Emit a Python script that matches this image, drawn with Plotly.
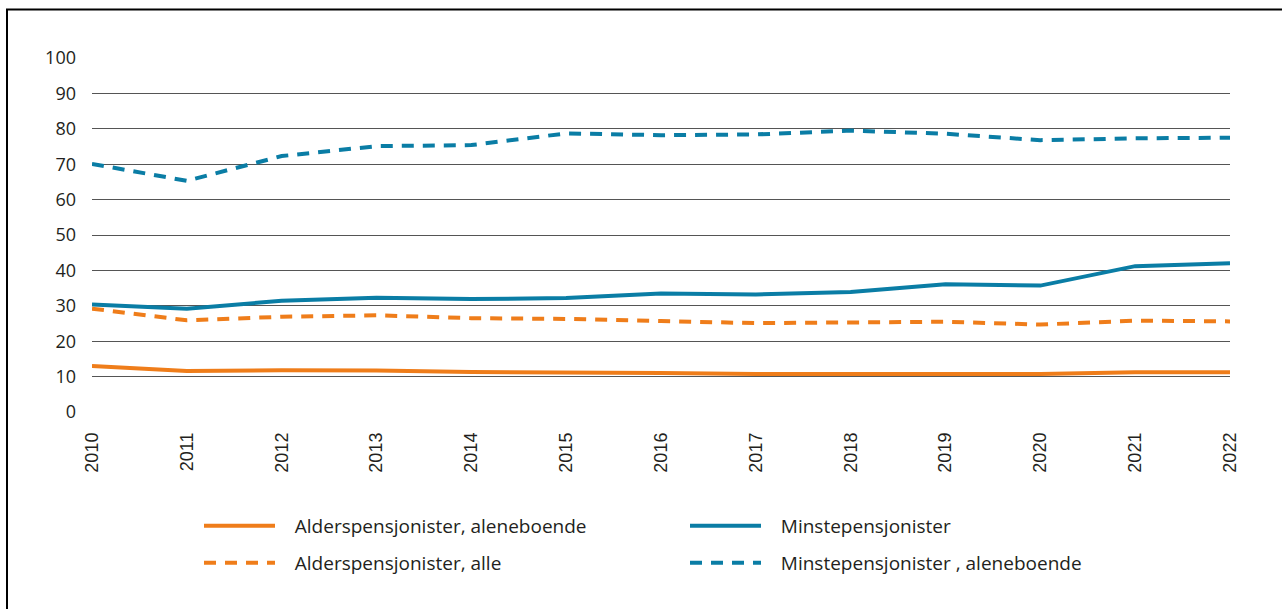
import plotly.graph_objects as go

years = list(range(2010, 2023))
alder_alene = [13.0, 11.6, 11.8, 11.7, 11.3, 11.2, 11.0, 10.7, 10.7, 10.9, 10.7, 11.2, 11.2]
alder_alle = [29.2, 25.9, 26.9, 27.3, 26.5, 26.3, 25.7, 25.1, 25.3, 25.5, 24.7, 25.8, 25.6]
minste = [30.4, 29.2, 31.4, 32.3, 31.9, 32.2, 33.5, 33.2, 33.9, 36.1, 35.7, 41.2, 42.0]
minste_alene = [70.1, 65.3, 72.3, 75.1, 75.4, 78.7, 78.2, 78.4, 79.5, 78.6, 76.8, 77.3, 77.5]
y_ticks = list(range(0, 101, 10))

ORANGE = "#EF7D1A"
BLUE = "#0A7DA5"
FONT = "Open Sans"
GAP = "\u00a0\u00a0\u00a0"

fig = go.Figure()
fig.add_trace(go.Scatter(x=years, y=alder_alene, mode="lines", name=GAP + "Alderspensjonister, aleneboende",
                         line=dict(color=ORANGE, width=4), legend="legend"))
fig.add_trace(go.Scatter(x=years, y=minste, mode="lines", name=GAP + "Minstepensjonister",
                         line=dict(color=BLUE, width=4), legend="legend"))
fig.add_trace(go.Scatter(x=years, y=alder_alle, mode="lines", name=GAP + "Alderspensjonister, alle",
                         line=dict(color=ORANGE, width=4, dash="12px,9px"), legend="legend2"))
fig.add_trace(go.Scatter(x=years, y=minste_alene, mode="lines", name=GAP + "Minstepensjonister , aleneboende",
                         line=dict(color=BLUE, width=4, dash="12px,9px"), legend="legend2"))

W, H = 1282, 609
L, R, T, B = 92, 52, 58, 197
pw, ph = W - L - R, H - T - B

def px_x(p):
    return (p - L) / pw

def px_y(p):
    return (H - B - p) / ph

legend_common = dict(orientation="h", xanchor="left", yanchor="middle",
                     font=dict(family=FONT, size=19, color="#231f20"),
                     entrywidth=400, entrywidthmode="pixels", bgcolor="rgba(0,0,0,0)",
                     itemwidth=71)

fig.update_layout(
    width=W, height=H,
    margin=dict(l=L, r=R, t=T, b=B),
    paper_bgcolor="white", plot_bgcolor="white",
    font=dict(family=FONT, size=17, color="#231f20"),
    legend=dict(x=px_x(199), y=px_y(526), **legend_common),
    legend2=dict(x=px_x(199), y=px_y(563), **legend_common),
    xaxis=dict(range=[2010, 2022], tickmode="array", tickvals=years, ticktext=[str(y) for y in years],
               tickangle=-90, showgrid=False, zeroline=False, showline=False,
               tickfont=dict(family="Liberation Sans", size=18, color="#231f20"),
               ticklabelstandoff=16),
    yaxis=dict(range=[0, 100], tickmode="array", tickvals=y_ticks, showgrid=True,
               gridcolor="#555555", gridwidth=1.3, zeroline=False, showline=False,
               tickfont=dict(family=FONT, size=18, color="#231f20"),
               ticklabelstandoff=15),
    shapes=[dict(type="rect", xref="paper", yref="paper",
                 x0=px_x(7), x1=px_x(1290), y0=px_y(620), y1=px_y(9.5),
                 line=dict(color="black", width=2), fillcolor="rgba(0,0,0,0)", layer="above")],
)

fig.write_html("out.html", config={"displayModeBar": False},
               post_script="document.body.style.margin='0px';")
